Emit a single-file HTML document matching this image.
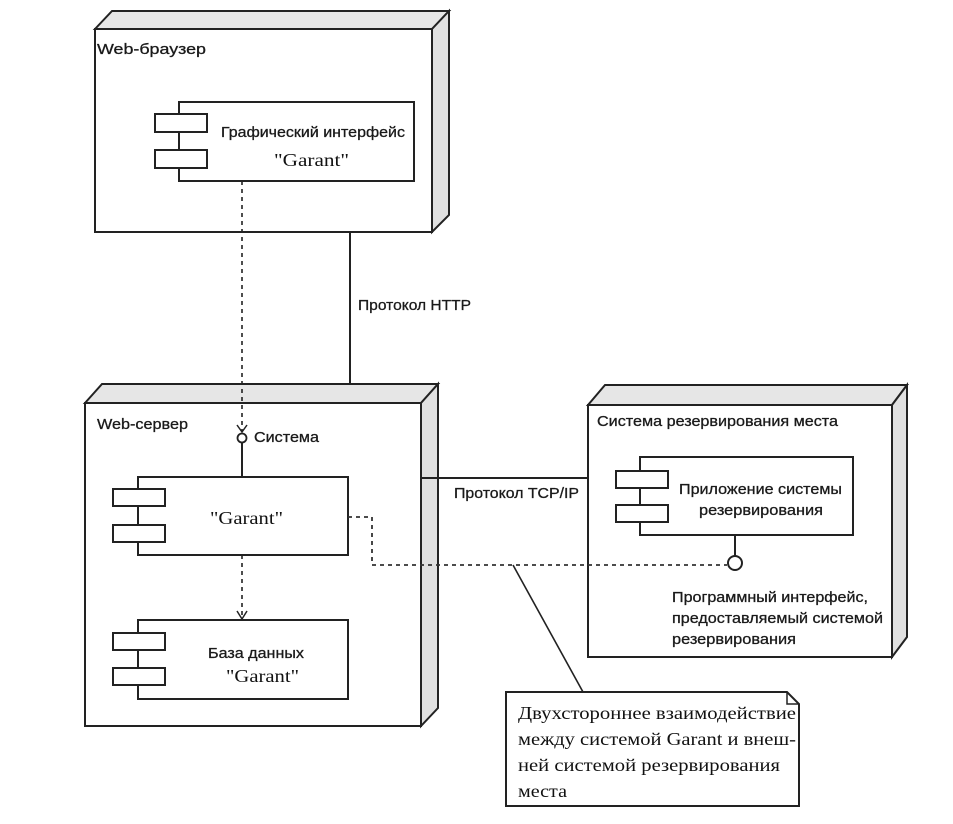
<!DOCTYPE html>
<html><head><meta charset="utf-8"><style>
html,body{margin:0;padding:0;background:#fff;}
svg{display:block;}
.s{font-family:"Liberation Sans","DejaVu Sans",sans-serif;font-size:15px;fill:#1a1a1a;stroke:#1a1a1a;stroke-width:0.3;}
.r{font-family:"Liberation Serif","DejaVu Serif",serif;font-size:18px;fill:#111;}
</style></head><body>
<svg width="953" height="824" viewBox="0 0 953 824" xmlns="http://www.w3.org/2000/svg">
<g stroke="#222" stroke-width="2" fill="none">
<polygon points="95,29 112,11 449,11 432,29" fill="#e6e6e6"/>
<polygon points="432,29 449,11 449,215 432,232" fill="#e0e0e0"/>
<rect x="95" y="29" width="337" height="203" fill="#fff"/>
<rect x="179" y="102" width="235" height="79" fill="#fff"/>
<rect x="155" y="114" width="52" height="18" fill="#fff"/>
<rect x="155" y="150" width="52" height="18" fill="#fff"/>

<line x1="350" y1="232" x2="350" y2="384"/>

<polygon points="85,403 102,384 438,384 421,403" fill="#e6e6e6"/>
<polygon points="421,403 438,384 438,708 421,726" fill="#e0e0e0"/>
<rect x="85" y="403" width="336" height="323" fill="#fff"/>

<line x1="242" y1="181" x2="242" y2="432" stroke-dasharray="4,4" stroke-width="1.6"/>
<polyline points="237,425 242,432 247,425" stroke-width="1.5"/>
<circle cx="242" cy="438" r="4.5" fill="#fff" stroke-width="1.8"/>
<line x1="242" y1="443" x2="242" y2="477"/>

<rect x="138" y="477" width="210" height="78" fill="#fff"/>
<rect x="113" y="489" width="52" height="17" fill="#fff"/>
<rect x="113" y="525" width="52" height="17" fill="#fff"/>

<line x1="242" y1="555" x2="242" y2="619" stroke-dasharray="4,4" stroke-width="1.6"/>
<polyline points="237,611 242,619 247,611" stroke-width="1.5"/>

<rect x="138" y="620" width="210" height="79" fill="#fff"/>
<rect x="113" y="633" width="52" height="17" fill="#fff"/>
<rect x="113" y="668" width="52" height="17" fill="#fff"/>

<line x1="421" y1="478" x2="588" y2="478"/>

<polygon points="588,405 605,385 907,385 892,405" fill="#e6e6e6"/>
<polygon points="892,405 907,385 907,637 892,657" fill="#e0e0e0"/>
<rect x="588" y="405" width="304" height="252" fill="#fff"/>
<rect x="640" y="457" width="213" height="78" fill="#fff"/>
<rect x="616" y="471" width="52" height="17" fill="#fff"/>
<rect x="616" y="505" width="52" height="17" fill="#fff"/>
<line x1="735" y1="535" x2="735" y2="556"/>

<polyline points="348,517 372,517 372,565 727,565" stroke-dasharray="4,4" stroke-width="1.8" stroke="#333"/>
<circle cx="735" cy="563" r="7" fill="#fff"/>

<line x1="513" y1="565" x2="583" y2="692" stroke-width="1.6"/>
<polygon points="506,692 787,692 799,704 799,806 506,806" fill="#fff"/>
<polyline points="787,692 787,704 799,704" stroke-width="1.5"/>
</g>

<text class="s" x="97" y="54" textLength="109" lengthAdjust="spacingAndGlyphs">Web-браузер</text>
<text class="s" x="221" y="137" textLength="184" lengthAdjust="spacingAndGlyphs">Графический интерфейс</text>
<text class="r" x="274" y="166" textLength="75" lengthAdjust="spacingAndGlyphs">"Garant"</text>
<text class="s" x="358" y="310" textLength="113" lengthAdjust="spacingAndGlyphs">Протокол HTTP</text>
<text class="s" x="97" y="429" textLength="91" lengthAdjust="spacingAndGlyphs">Web-сервер</text>
<text class="s" x="254" y="442" textLength="65" lengthAdjust="spacingAndGlyphs">Система</text>
<text class="r" x="210" y="524" textLength="73" lengthAdjust="spacingAndGlyphs">"Garant"</text>
<text class="s" x="208" y="658" textLength="96" lengthAdjust="spacingAndGlyphs">База данных</text>
<text class="r" x="226" y="682" textLength="73" lengthAdjust="spacingAndGlyphs">"Garant"</text>
<text class="s" x="454" y="498" textLength="125" lengthAdjust="spacingAndGlyphs">Протокол TCP/IP</text>
<text class="s" x="597" y="426" textLength="241" lengthAdjust="spacingAndGlyphs">Система резервирования места</text>
<text class="s" x="679" y="494" textLength="163" lengthAdjust="spacingAndGlyphs">Приложение системы</text>
<text class="s" x="699" y="515" textLength="124" lengthAdjust="spacingAndGlyphs">резервирования</text>
<text class="s" x="672" y="602" textLength="196" lengthAdjust="spacingAndGlyphs">Программный интерфейс,</text>
<text class="s" x="672" y="623" textLength="211" lengthAdjust="spacingAndGlyphs">предоставляемый системой</text>
<text class="s" x="672" y="644" textLength="124" lengthAdjust="spacingAndGlyphs">резервирования</text>
<text class="r" x="518" y="719" textLength="278" lengthAdjust="spacingAndGlyphs">Двухстороннее взаимодействие</text>
<text class="r" x="518" y="745" textLength="278" lengthAdjust="spacingAndGlyphs">между системой Garant и внеш-</text>
<text class="r" x="518" y="771" textLength="262" lengthAdjust="spacingAndGlyphs">ней системой резервирования</text>
<text class="r" x="518" y="797" textLength="49" lengthAdjust="spacingAndGlyphs">места</text>
</svg>
</body></html>
